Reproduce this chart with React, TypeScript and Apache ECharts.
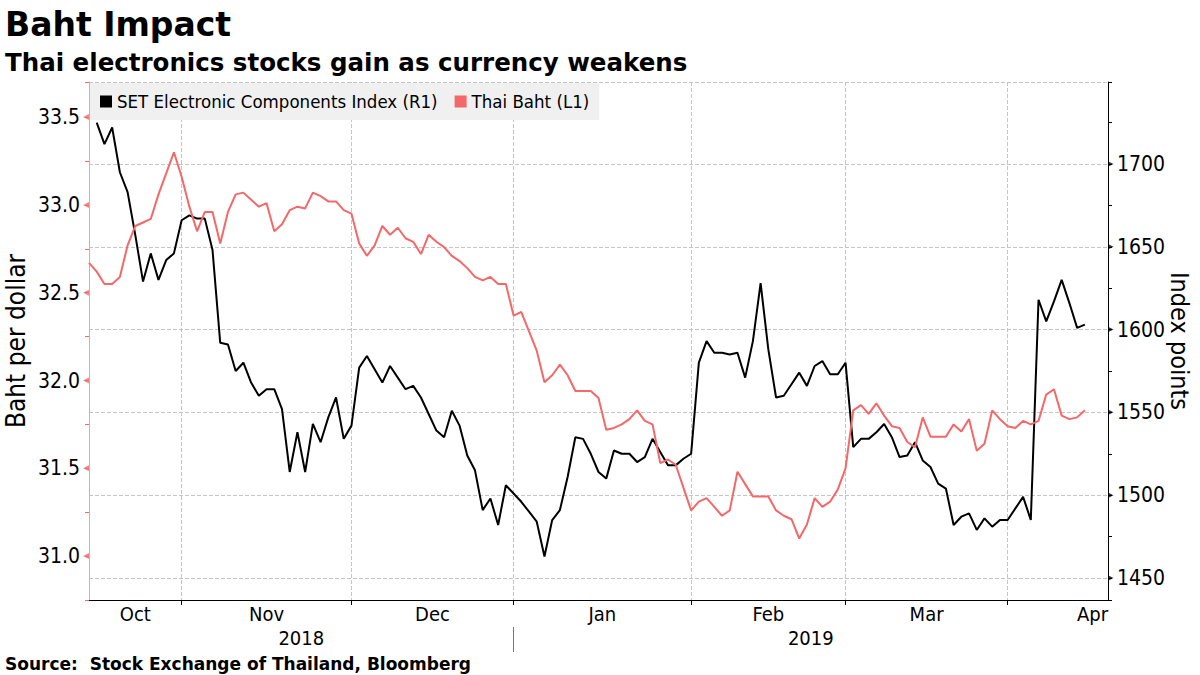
import React, { useEffect, useRef } from "react";
import * as echarts from "echarts";

// ---- data ----
const startDate = "2018-10-16"; // first weekday shown
const axisDayCount = 133; // weekdays on the axis (data ends 3 days before the right edge)

const bahtValues = [
  32.67, 32.62, 32.55, 32.55, 32.59, 32.77, 32.88, 32.9, 32.92, 33.06,
  33.18, 33.3, 33.16, 32.99, 32.85, 32.96, 32.96, 32.78, 32.96, 33.06,
  33.07, 33.03, 32.99, 33.01, 32.85, 32.89, 32.97, 32.99, 32.98, 33.07,
  33.05, 33.02, 33.02, 32.97, 32.95, 32.78, 32.71, 32.77, 32.88, 32.83,
  32.87, 32.81, 32.79, 32.72, 32.83, 32.79, 32.76, 32.71, 32.68, 32.64,
  32.59, 32.57, 32.59, 32.55, 32.55, 32.37, 32.39, 32.28, 32.17, 31.99,
  32.03, 32.09, 32.03, 31.94, 31.94, 31.94, 31.9, 31.72, 31.73, 31.75,
  31.78, 31.83, 31.77, 31.75, 31.53, 31.55, 31.52, 31.39, 31.26, 31.31,
  31.33, 31.28, 31.23, 31.26, 31.48, 31.41, 31.34, 31.34, 31.34, 31.26,
  31.23, 31.21, 31.1, 31.18, 31.33, 31.28, 31.31, 31.38, 31.5, 31.83,
  31.86, 31.81, 31.87, 31.8, 31.74, 31.73, 31.65, 31.62, 31.79, 31.68,
  31.68, 31.68, 31.75, 31.71, 31.78, 31.6, 31.64, 31.83, 31.78, 31.74,
  31.73, 31.77, 31.75, 31.77, 31.92, 31.95, 31.8, 31.78, 31.79, 31.83,
];

const setIndexValues = [
  null, 1725, 1712, 1722, 1695, 1683, 1657, 1629, 1646, 1630,
  1642, 1646, 1666, 1669, 1667, 1667, 1648, 1592, 1591, 1575,
  1580, 1568, 1560, 1564, 1564, 1552, 1514, 1538, 1514, 1543,
  1532, 1547, 1559, 1534, 1542, 1577, 1584, 1576, 1568, 1578,
  1571, 1564, 1566, 1559, 1549, 1539, 1535, 1551, 1542, 1524,
  1515, 1491, 1498, 1482, 1506, 1501, 1496, 1490, 1484, 1463,
  1485, 1491, 1511, 1535, 1534, 1525, 1514, 1510, 1527, 1525,
  1525, 1520, 1523, 1534, 1526, 1518, 1518, 1522, 1525, 1580,
  1593, 1586, 1586, 1585, 1586, 1571, 1593, 1628, 1588, 1559,
  1560, 1567, 1574, 1566, 1578, 1581, 1573, 1573, 1580, 1529,
  1534, 1534, 1538, 1543, 1535, 1523, 1524, 1532, 1521, 1517,
  1507, 1504, 1482, 1487, 1489, 1479, 1486, 1481, 1485, 1485,
  1492, 1499, 1485, 1618, 1605, 1617, 1630, 1616, 1601, 1603,
];

const monthLabels = ["Oct", "Nov", "Dec", "Jan", "Feb", "Mar", "Apr"];
const monthLabelPos = [6, 23, 44.5, 66.5, 88, 108.5, 130];
const yearLabels = ["2018", "2019"];
const yearLabelPos = [27.5, 93.5];
const leftTickLabels = [31.0, 31.5, 32.0, 32.5, 33.0, 33.5];
const rightTickLabels = [1450, 1500, 1550, 1600, 1650, 1700];

const seriesNames = ["SET Electronic Components Index (R1)", "Thai Baht (L1)"];

// ---- helpers ----
function weekdays(start: string, n: number): string[] {
  const out: string[] = [];
  const d = new Date(start + "T00:00:00Z");
  while (out.length < n) {
    const wd = d.getUTCDay();
    if (wd !== 0 && wd !== 6) out.push(d.toISOString().slice(0, 10));
    d.setUTCDate(d.getUTCDate() + 1);
  }
  return out;
}

const categories = weekdays(startDate, axisDayCount);
const monthStartIdx: number[] = [];
for (let i = 1; i < categories.length; i++) {
  if (categories[i].slice(5, 7) !== categories[i - 1].slice(5, 7)) monthStartIdx.push(i);
}
const yearStartIdx: number[] = [];
for (let i = 1; i < categories.length; i++) {
  if (categories[i].slice(0, 4) !== categories[i - 1].slice(0, 4)) yearStartIdx.push(i);
}

function labelMap(labels: string[], pos: number[]) {
  const m = new Map<number, { text: string; half: boolean }>();
  labels.forEach((t, k) => m.set(Math.floor(pos[k]), { text: t, half: pos[k] % 1 !== 0 }));
  return m;
}

const W = 1200;
const H = 675;
const GRID = { left: 89, right: 92, top: 82, bottom: 75 };
const STEP = (W - GRID.left - GRID.right) / (axisDayCount - 1);

const LABEL_FONT = "'DejaVu Sans Condensed', 'Liberation Sans Narrow', 'DejaVu Sans', sans-serif";
const TITLE_FONT = "'DejaVu Sans', Verdana, sans-serif";
const PINK = "#f4686a";
const GRIDLINE = "#c4c4c4";

export default function App() {
  const ref = useRef<HTMLDivElement>(null);

  useEffect(() => {
    if (!ref.current) return;
    const chart = echarts.init(ref.current, undefined, { renderer: "svg" });

    const months = labelMap(monthLabels, monthLabelPos);
    const years = labelMap(yearLabels, yearLabelPos);
    const richFor = (size: number) => ({
      n: { fontSize: size, fontFamily: LABEL_FONT, color: "#000" },
      h: { fontSize: size, fontFamily: LABEL_FONT, color: "#000", padding: [0, 0, 0, STEP] },
    });
    const fmt = (m: Map<number, { text: string; half: boolean }>) => (_v: string, idx: number) => {
      const e = m.get(idx);
      if (!e) return "";
      return e.half ? `{h|${e.text}}` : `{n|${e.text}}`;
    };

    chart.setOption({
      animation: false,
      backgroundColor: "#fff",
      title: [
        {
          text: "Baht Impact",
          left: 5,
          top: 8,
          padding: 0,
          textStyle: { fontFamily: TITLE_FONT, fontWeight: "bold", fontSize: 33, color: "#000" },
        },
        {
          text: "Thai electronics stocks gain as currency weakens",
          left: 5,
          top: 50,
          padding: 0,
          textStyle: { fontFamily: TITLE_FONT, fontWeight: "bold", fontSize: 24.5, color: "#000" },
        },
        {
          text: "Source:  Stock Exchange of Thailand, Bloomberg",
          left: 5,
          top: 655,
          padding: 0,
          textStyle: { fontFamily: TITLE_FONT, fontWeight: "bold", fontSize: 17, color: "#000" },
        },
      ],
      legend: {
        data: seriesNames,
        left: GRID.left + 1,
        top: GRID.top + 1,
        orient: "horizontal",
        backgroundColor: "#f0f0f0",
        padding: [9, 10, 9, 10],
        itemGap: 17,
        itemWidth: 12,
        itemHeight: 12,
        icon: "rect",
        textStyle: { fontFamily: LABEL_FONT, fontSize: 18.5, color: "#000" },
      },
      grid: { ...GRID, containLabel: false, outerBoundsMode: "none" },
      xAxis: [
        {
          type: "category",
          data: categories,
          boundaryGap: false,
          position: "bottom",
          axisLine: { show: true, lineStyle: { color: "#000", width: 1 } },
          axisTick: {
            show: true,
            interval: (idx: number) => monthStartIdx.includes(idx),
            length: 5,
            lineStyle: { color: "#000" },
          },
          axisLabel: {
            interval: (idx: number) => months.has(idx),
            formatter: fmt(months),
            rich: richFor(20),
            margin: 4,
            color: "#000",
          },
          splitLine: {
            show: true,
            interval: (idx: number) => monthStartIdx.includes(idx),
            lineStyle: { color: GRIDLINE, type: "dashed", width: 1 },
          },
        },
        {
          type: "category",
          data: categories,
          boundaryGap: false,
          position: "bottom",
          offset: 27,
          axisLine: { show: false },
          axisTick: {
            show: true,
            interval: (idx: number) => yearStartIdx.includes(idx),
            length: 25,
            lineStyle: { color: "#777" },
          },
          axisLabel: {
            interval: (idx: number) => years.has(idx),
            formatter: fmt(years),
            rich: richFor(20),
            margin: 1,
            color: "#000",
          },
          splitLine: { show: false },
        },
      ],
      yAxis: [
        {
          type: "value",
          position: "left",
          min: 30.75,
          max: 33.7,
          interval: 0.25,
          name: "Baht per dollar",
          nameLocation: "middle",
          nameGap: 60,
          nameMoveOverlap: false,
          nameTextStyle: { fontFamily: LABEL_FONT, fontSize: 26, color: "#000" },
          axisLine: { show: true, lineStyle: { color: "#f6a0a0", width: 1 } },
          axisTick: { show: true, length: 4, lineStyle: { color: PINK, width: 1 } },
          axisLabel: {
            formatter: (v: number) => (Math.abs(v * 2 - Math.round(v * 2)) < 1e-6 ? v.toFixed(1) : ""),
            fontFamily: LABEL_FONT,
            fontSize: 21,
            color: "#000",
            margin: 9,
          },
          splitLine: { show: false },
        },
        {
          type: "value",
          position: "right",
          min: 1436.7,
          max: 1749.5,
          splitNumber: 5,
          name: "Index points",
          nameLocation: "middle",
          nameRotate: -90,
          nameGap: 59,
          nameMoveOverlap: false,
          nameTextStyle: { fontFamily: LABEL_FONT, fontSize: 25, color: "#000" },
          axisLine: { show: true, lineStyle: { color: "#000", width: 1 } },
          axisTick: { show: true, length: 4, lineStyle: { color: "#000" } },
          minorTick: { show: true, splitNumber: 2, length: 4, lineStyle: { color: "#000" } },
          axisLabel: {
            formatter: (v: number) => String(Math.round(v)),
            fontFamily: LABEL_FONT,
            fontSize: 21,
            color: "#000",
            margin: 9,
            showMinLabel: false,
            showMaxLabel: false,
          },
          splitLine: { show: true, lineStyle: { color: GRIDLINE, type: "dashed", width: 1 } },
        },
      ],
      series: [
        {
          name: seriesNames[0],
          type: "line",
          xAxisIndex: 0,
          yAxisIndex: 1,
          data: setIndexValues,
          showSymbol: false,
          symbol: "none",
          lineStyle: { color: "#000", width: 2 },
          itemStyle: { color: "#000" },
        },
        {
          name: seriesNames[1],
          type: "line",
          xAxisIndex: 0,
          yAxisIndex: 0,
          data: bahtValues,
          showSymbol: false,
          symbol: "none",
          lineStyle: { color: PINK, width: 2 },
          itemStyle: { color: PINK },
        },
        {
          name: "leftTickMarks",
          type: "scatter",
          xAxisIndex: 0,
          yAxisIndex: 0,
          data: leftTickLabels.map((v) => [0, v]),
          symbol: "triangle",
          symbolSize: [6, 6],
          symbolRotate: 90,
          symbolOffset: [-3, 0],
          itemStyle: { color: PINK },
          clip: false,
          silent: true,
          z: 5,
        },
        {
          name: "rightTickMarks",
          type: "scatter",
          xAxisIndex: 0,
          yAxisIndex: 1,
          data: rightTickLabels.map((v) => [axisDayCount - 1, v]),
          symbol: "triangle",
          symbolSize: [5, 5],
          symbolRotate: -90,
          symbolOffset: [3, 0],
          itemStyle: { color: "#000" },
          clip: false,
          silent: true,
          z: 5,
        },
      ],
    });

    return () => chart.dispose();
  }, []);

  return (
    <div
      ref={ref}
      style={{ position: "absolute", left: 0, top: 0, width: W, height: H, background: "#fff" }}
    />
  );
}
